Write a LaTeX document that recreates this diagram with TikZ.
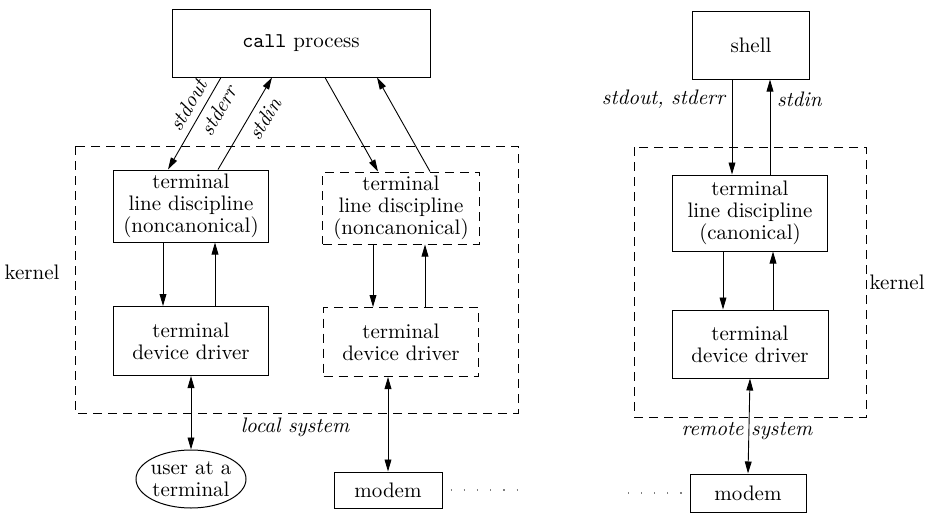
\documentclass[tikz,border=0pt]{standalone}
\usetikzlibrary{arrows.meta,shapes.geometric}

\begin{document}
\begin{tikzpicture}[x=0.5pt,y=-0.5pt,font=\fontsize{10.5}{11}\selectfont,
  box/.style={draw,line width=0.5pt,align=center,inner sep=1pt},
  dbox/.style={box,dash pattern=on 4.5pt off 3pt},
  kbox/.style={line width=0.5pt,dash pattern=on 4.5pt off 3pt},
  arr/.style={-{Triangle[length=6pt,width=3.4pt]},line width=0.45pt},
  darr/.style={{Triangle[length=6pt,width=3.4pt]}-{Triangle[length=6pt,width=3.4pt]},line width=0.45pt},
  lbl/.style={font=\fontsize{10.5}{11}\selectfont\itshape},
  dots/.style={line width=0.6pt,gray,dash pattern=on 0.6pt off 6pt}]
  \useasboundingbox (0,0) rectangle (926,514);
  \draw[kbox] (75,146) rectangle (518,413);
  \draw[kbox] (634,147) rectangle (866,417);
  \node (kerA) at (32,272) {kernel};
  \node[anchor=east,inner sep=0pt] (kerB) at (925,282) {kernel};
  \node[lbl] (locsys) at (295,427) {local system};
  \node[lbl] (remsys) at (747,431) {remote system};

  \node[box,minimum width=129pt,minimum height=34pt] (call) at (301,43) {\texttt{call} process};
  \node[box,minimum width=77.5pt,minimum height=36pt] (ld1) at (191,206) {terminal\\line discipline\\(noncanonical)};
  \node[dbox,minimum width=78.5pt,minimum height=36pt] (ld2) at (401,208) {terminal\\line discipline\\(noncanonical)};
  \node[box,minimum width=77.5pt,minimum height=34.5pt] (dd1) at (191,341) {terminal\\device driver};
  \node[dbox,minimum width=77.5pt,minimum height=34.5pt] (dd2) at (401,342) {terminal\\device driver};
  \node[draw,ellipse,line width=0.5pt,align=center,inner xsep=-2pt,inner ysep=0pt,minimum width=55pt,minimum height=29pt] (user) at (191,479) {user at a\\terminal};
  \node[box,minimum width=54pt,minimum height=18pt] (modemA) at (388,490) {modem};

  \node[box,minimum width=58.5pt,minimum height=34pt] (shell) at (751,45) {shell};
  \node[box,minimum width=77.5pt,minimum height=38pt] (ld3) at (750,213) {terminal\\line discipline\\(canonical)};
  \node[box,minimum width=78pt,minimum height=34pt] (dd3) at (750,344) {terminal\\device driver};
  \node[box,minimum width=58pt,minimum height=19pt] (modemB) at (748,493) {modem};

  \draw[arr] ([xshift=-40pt]call.south) -- node[lbl,sloped,above,pos=0.38]{stdout} node[lbl,sloped,below,pos=0.28]{stderr} ([xshift=-11.5pt]ld1.north);
  \draw[arr] ([xshift=13.5pt]ld1.north) -- node[lbl,sloped,below,pos=0.63]{stdin} ([xshift=-14.5pt]call.south);
  \draw[arr] ([xshift=12pt]call.south) -- ([xshift=-11.5pt]ld2.north);
  \draw[arr] ([xshift=14.5pt]ld2.north) -- ([xshift=38pt]call.south);

  \draw[arr] ([xshift=-14pt]ld1.south) -- ([xshift=-14pt]ld1.south |- dd1.north);
  \draw[arr] ([xshift=12pt]dd1.north) -- ([xshift=12pt]dd1.north |- ld1.south);
  \draw[arr] ([xshift=-14pt]ld2.south) -- ([xshift=-14pt]ld2.south |- dd2.north);
  \draw[arr] ([xshift=12pt]dd2.north) -- ([xshift=12pt]dd2.north |- ld2.south);
  \draw[arr] ([xshift=-13.5pt]ld3.south) -- ([xshift=-13.5pt]ld3.south |- dd3.north);
  \draw[arr] ([xshift=11.5pt]dd3.north) -- ([xshift=11.5pt]dd3.north |- ld3.south);

  \draw[arr] ([xshift=-9.5pt]shell.south) -- node[lbl,left,pos=0.21]{stdout, stderr} ([xshift=-9.5pt]shell.south |- ld3.north);
  \draw[arr] ([xshift=9.5pt]shell.south |- ld3.north) -- node[lbl,right,pos=0.79]{stdin} ([xshift=9.5pt]shell.south);

  \draw[darr] (dd1.south) -- (user.north);
  \draw[darr] (modemA.north) -- (modemA.north |- dd2.south);
  \draw[darr] (dd3.south) -- (modemB.north);

  \draw[dots] ([xshift=4pt]modemA.east) -- ++(34pt,0);
  \draw[dots] ([xshift=-4pt]modemB.west) -- ++(-30pt,0);
\end{tikzpicture}
\end{document}
